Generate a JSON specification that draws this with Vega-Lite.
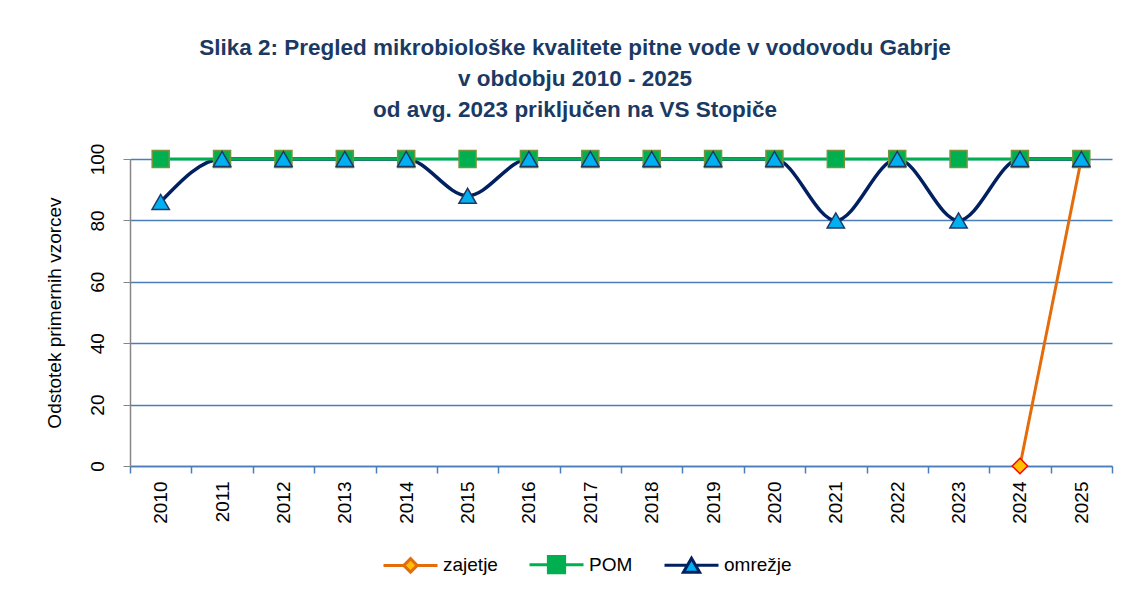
{
  "$schema": "https://vega.github.io/schema/vega-lite/v6.json",
  "autosize": {"type": "none"},
  "width": 982,
  "height": 307,
  "padding": {"left": 130, "top": 159, "right": 19, "bottom": 127},
  "background": "white",
  "title": {
    "text": ["Slika 2: Pregled mikrobiološke kvalitete pitne vode v vodovodu Gabrje", "v obdobju 2010 - 2025", "od avg. 2023 priključen na VS Stopiče"],
    "font": "Liberation Sans",
    "fontWeight": "bold",
    "fontSize": 22.5,
    "color": "#1b3a63",
    "anchor": "middle",
    "dx": -46,
    "offset": 22,
    "lineHeight": 31
  },
  "data": {
    "values": [
      {"year": "2010", "series": "POM", "value": 100},
      {"year": "2011", "series": "POM", "value": 100},
      {"year": "2012", "series": "POM", "value": 100},
      {"year": "2013", "series": "POM", "value": 100},
      {"year": "2014", "series": "POM", "value": 100},
      {"year": "2015", "series": "POM", "value": 100},
      {"year": "2016", "series": "POM", "value": 100},
      {"year": "2017", "series": "POM", "value": 100},
      {"year": "2018", "series": "POM", "value": 100},
      {"year": "2019", "series": "POM", "value": 100},
      {"year": "2020", "series": "POM", "value": 100},
      {"year": "2021", "series": "POM", "value": 100},
      {"year": "2022", "series": "POM", "value": 100},
      {"year": "2023", "series": "POM", "value": 100},
      {"year": "2024", "series": "POM", "value": 100},
      {"year": "2025", "series": "POM", "value": 100},
      {"year": "2010", "series": "omrežje", "value": 86},
      {"year": "2011", "series": "omrežje", "value": 100},
      {"year": "2012", "series": "omrežje", "value": 100},
      {"year": "2013", "series": "omrežje", "value": 100},
      {"year": "2014", "series": "omrežje", "value": 100},
      {"year": "2015", "series": "omrežje", "value": 88},
      {"year": "2016", "series": "omrežje", "value": 100},
      {"year": "2017", "series": "omrežje", "value": 100},
      {"year": "2018", "series": "omrežje", "value": 100},
      {"year": "2019", "series": "omrežje", "value": 100},
      {"year": "2020", "series": "omrežje", "value": 100},
      {"year": "2021", "series": "omrežje", "value": 80},
      {"year": "2022", "series": "omrežje", "value": 100},
      {"year": "2023", "series": "omrežje", "value": 80},
      {"year": "2024", "series": "omrežje", "value": 100},
      {"year": "2025", "series": "omrežje", "value": 100},
      {"year": "2024", "series": "zajetje", "value": 0},
      {"year": "2025", "series": "zajetje", "value": 100}
    ]
  },
  "encoding": {
    "x": {
      "field": "year", "type": "ordinal",
      "scale": {"type": "band", "paddingInner": 0, "paddingOuter": 0},
      "axis": {"title": null, "labelAngle": -90, "domainColor": "#4a7ebb", "tickColor": "#4a7ebb", "tickBand": "extent", "tickSize": 7, "labelPadding": 8, "labelFontSize": 19, "labelColor": "#000000", "grid": false, "domainWidth": 1.5, "tickWidth": 1.5}
    },
    "y": {
      "field": "value", "type": "quantitative",
      "scale": {"domain": [0, 100], "nice": false},
      "axis": {"title": "Odstotek primernih vzorcev", "values": [0, 20, 40, 60, 80, 100], "labelAngle": -90, "domainColor": "#868686", "tickColor": "#868686", "tickSize": 7, "labelPadding": 16, "labelFontSize": 19, "titleFontSize": 19, "titleFontWeight": "normal", "titleColor": "#000000", "labelColor": "#000000", "gridColor": "#4a7ebb", "gridWidth": 1.5, "titlePadding": 24, "domainWidth": 1.5}
    }
  },
  "layer": [
    {"transform": [{"filter": "datum.series === 'zajetje'"}], "mark": {"type": "line", "stroke": "#e46c0a", "strokeWidth": 3}},
    {"transform": [{"filter": "datum.series === 'omrežje'"}], "mark": {"type": "line", "stroke": "#002060", "strokeWidth": 3.5, "interpolate": "monotone"}},
    {"transform": [{"filter": "datum.series === 'POM'"}], "mark": {"type": "line", "stroke": "#00b050", "strokeWidth": 3}},
    {"transform": [{"filter": "datum.series === 'zajetje'"}], "mark": {"type": "point", "shape": "diamond", "size": 240, "filled": true, "fill": "#ffc000", "stroke": "#ff0000", "strokeWidth": 1.5, "opacity": 1}},
    {"transform": [{"filter": "datum.series === 'POM'"}], "mark": {"type": "point", "shape": "square", "size": 289, "filled": true, "fill": "#00b050", "stroke": "#77933c", "strokeWidth": 1.5, "opacity": 1}},
    {"transform": [{"filter": "datum.series === 'omrežje'"}], "mark": {"type": "point", "shape": "triangle-up", "size": 300, "filled": true, "fill": "#00b0f0", "stroke": "#1f3864", "strokeWidth": 1.5, "opacity": 1}},
    {
      "transform": [{"filter": "false"}],
      "mark": {"type": "point", "opacity": 1},
      "encoding": {
        "stroke": {"field": "series", "type": "nominal", "scale": {"domain": ["zajetje", "POM", "omrežje"], "range": ["#e46c0a", "#00b050", "#002060"]},
          "legend": {"title": null, "orient": "none", "legendX": 252, "legendY": 377, "direction": "horizontal", "symbolSize": 2916, "symbolStrokeWidth": 3, "labelFontSize": 19, "labelColor": "#000000", "columnPadding": 25, "labelOffset": 4, "symbolOpacity": 1, "padding": 0}},
        "fill": {"field": "series", "type": "nominal", "scale": {"domain": ["zajetje", "POM", "omrežje"], "range": ["#ffc000", "#00b050", "#00b0f0"]},
          "legend": {"title": null, "orient": "none", "legendX": 252, "legendY": 377, "direction": "horizontal", "symbolSize": 2916, "symbolStrokeWidth": 3, "labelFontSize": 19, "labelColor": "#000000", "columnPadding": 25, "labelOffset": 4, "symbolOpacity": 1, "padding": 0}},
        "shape": {"field": "series", "type": "nominal", "scale": {"domain": ["zajetje", "POM", "omrežje"], "range": [
          "M-1,0H-0.25M0.25,0H1M0,-0.25L0.25,0L0,0.25L-0.25,0Z",
          "M-1,0H-0.3M0.3,0H1M-0.3,-0.3H0.3V0.3H-0.3Z",
          "M-1,0H-0.16M0.16,0H1M0,-0.26L0.3,0.26H-0.3Z"]},
          "legend": {"title": null, "orient": "none", "legendX": 252, "legendY": 377, "direction": "horizontal", "symbolSize": 2916, "symbolStrokeWidth": 3, "labelFontSize": 19, "labelColor": "#000000", "columnPadding": 25, "labelOffset": 4, "symbolOpacity": 1, "padding": 0}}
      }
    }
  ],
  "config": {
    "font": "Liberation Sans",
    "view": {"stroke": null},
    "axis": {"labelFont": "Liberation Sans", "titleFont": "Liberation Sans"},
    "legend": {"labelFont": "Liberation Sans"}
  }
}
